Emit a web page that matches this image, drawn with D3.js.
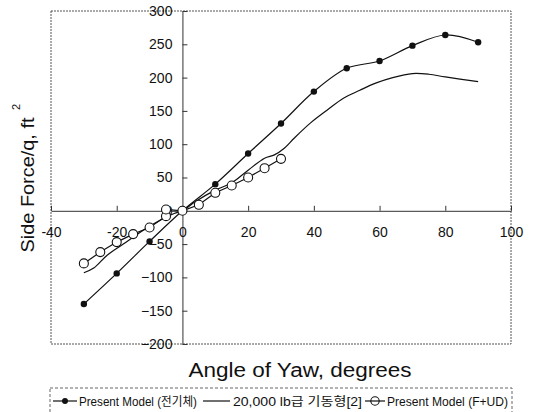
<!DOCTYPE html>
<html><head><meta charset="utf-8">
<script src="https://cdn.jsdelivr.net/npm/d3@7"></script>
<style>
html,body{margin:0;padding:0;background:#fff;}
svg{display:block;}
text{font-family:"Liberation Sans",Arial,"Noto Sans CJK KR",sans-serif;fill:#111;}
</style></head>
<body>
<svg id="chart" width="534" height="412"></svg>
<script>
// ---- data ----
const xTicks = [-40,-20,0,20,40,60,80,100];
const yTicks = [-200,-150,-100,-50,0,50,100,150,200,250,300];

const presentX = [-30,-20,-10,0,10,20,30,40,50,60,70,80,90];
const presentY = [-140,-94,-46,0,40,86,131,179,214,225,248,264,253];

const refX = [-30,-27,-23,-18,-12.5,-7.5,-2.5,0,4,10,15,20,25,28,31,34,39,44,49,54,59,64,70,75,80,90];
const refY = [-93,-86,-67,-50,-31,-16,-4,0,14,31,42,61,79,84,94,109,132,151,169,181,192,200,206,205,201,194];

const fuX = [-30,-25,-20,-15,-10,-5,-5,0,5,10,15,20,25,30];
const fuY = [-79,-62,-47,-35,-25,-8,2,0,9,27,38,50,64,78];

const legendLabels = ["Present Model (전기체)","20,000 lb급 기동형[2]","Present Model (F+UD)"];

// ---- layout ----
const svg = d3.select("#chart");
const L = 51, R = 511, T = 11, B = 344;
const x = d3.scaleLinear().domain([-40,100]).range([L,R]);
const y = d3.scaleLinear().domain([-200,300]).range([B,T]);

// frame
svg.append("rect").attr("x",L).attr("y",T).attr("width",R-L).attr("height",B-T)
  .attr("fill","none").attr("stroke","#555").attr("stroke-width",1).attr("stroke-dasharray","2,1");

// y axis at x=0
const yAxis = d3.axisLeft(y).tickValues(yTicks).tickSizeInner(-5).tickSizeOuter(0).tickPadding(10)
  .tickFormat(d => d < 0 ? "\u2212" + (-d) : d);
const gy = svg.append("g").attr("transform",`translate(${x(0)},0)`).call(yAxis);
gy.selectAll("text").style("font-size","14px").attr("fill","#111");
gy.selectAll("line,path").attr("stroke","#333");

// x axis at y=0
const xAxis = d3.axisBottom(x).tickValues(xTicks).tickSizeInner(-5).tickSizeOuter(0).tickPadding(16)
  .tickFormat(d => d < 0 ? "-" + (-d) : d);
const gx = svg.append("g").attr("transform",`translate(0,${y(0)})`).call(xAxis);
gx.selectAll("text").style("font-size","14px").attr("fill","#111");
gx.selectAll("line,path").attr("stroke","#333");

// lines
const mk = (xs,ys) => xs.map((v,i)=>[v,ys[i]]);
const present = mk(presentX,presentY), ref = mk(refX,refY), fu = mk(fuX,fuY);
const line = d3.line().x(d=>x(d[0])).y(d=>y(d[1]));
const curve = d3.line().x(d=>x(d[0])).y(d=>y(d[1])).curve(d3.curveCatmullRom.alpha(0.5));

svg.append("path").attr("d",curve(ref)).attr("fill","none").attr("stroke","#111").attr("stroke-width",1.2);
svg.append("path").attr("d",curve(present)).attr("fill","none").attr("stroke","#111").attr("stroke-width",1.2);
svg.append("path").attr("d",line(fu)).attr("fill","none").attr("stroke","#111").attr("stroke-width",1.2);

svg.selectAll(".dot").data(present).enter().append("circle")
  .attr("cx",d=>x(d[0])).attr("cy",d=>y(d[1])).attr("r",3.2).attr("fill","#111");
svg.selectAll(".oc").data(fu).enter().append("circle")
  .attr("cx",d=>x(d[0])).attr("cy",d=>y(d[1])).attr("r",4.5).attr("fill","#fff")
  .attr("stroke","#111").attr("stroke-width",1.1);

// axis titles
svg.append("text").attr("x",300).attr("y",377).attr("text-anchor","middle")
  .attr("textLength",223).attr("lengthAdjust","spacingAndGlyphs")
  .style("font-size","20px").text("Angle of Yaw, degrees");
svg.append("text").attr("transform","translate(34,185) rotate(-90)").attr("text-anchor","middle")
  .attr("textLength",135).attr("lengthAdjust","spacingAndGlyphs")
  .style("font-size","19px").text("Side Force/q, ft");
svg.append("text").attr("transform","translate(20,107) rotate(-90)").attr("text-anchor","middle")
  .style("font-size","11px").text("2");

// legend
svg.append("rect").attr("x",50).attr("y",388).attr("width",462).attr("height",40)
  .attr("fill","none").attr("stroke","#666").attr("stroke-dasharray","3,2");
const ly = 401;
const items = [
  {x0:53,x1:77,tx:79,tw:118,type:"dot"},
  {x0:203,x1:230,tx:233,tw:129,type:"line"},
  {x0:365,x1:385,tx:387,tw:121,type:"open"}
];
items.forEach((it,i)=>{
  svg.append("line").attr("x1",it.x0).attr("x2",it.x1).attr("y1",ly).attr("y2",ly)
    .attr("stroke","#111").attr("stroke-width",1.2);
  const cx = (it.x0+it.x1)/2;
  if (it.type==="dot") svg.append("circle").attr("cx",cx).attr("cy",ly).attr("r",3).attr("fill","#111");
  if (it.type==="open") svg.append("circle").attr("cx",cx).attr("cy",ly).attr("r",4.2).attr("fill","none").attr("stroke","#111").attr("stroke-width",1.1);
  svg.append("text").attr("x",it.tx).attr("y",ly+4.5).attr("textLength",it.tw).attr("lengthAdjust","spacingAndGlyphs")
    .style("font-size","12.5px").text(legendLabels[i]);
});
</script>
</body></html>
